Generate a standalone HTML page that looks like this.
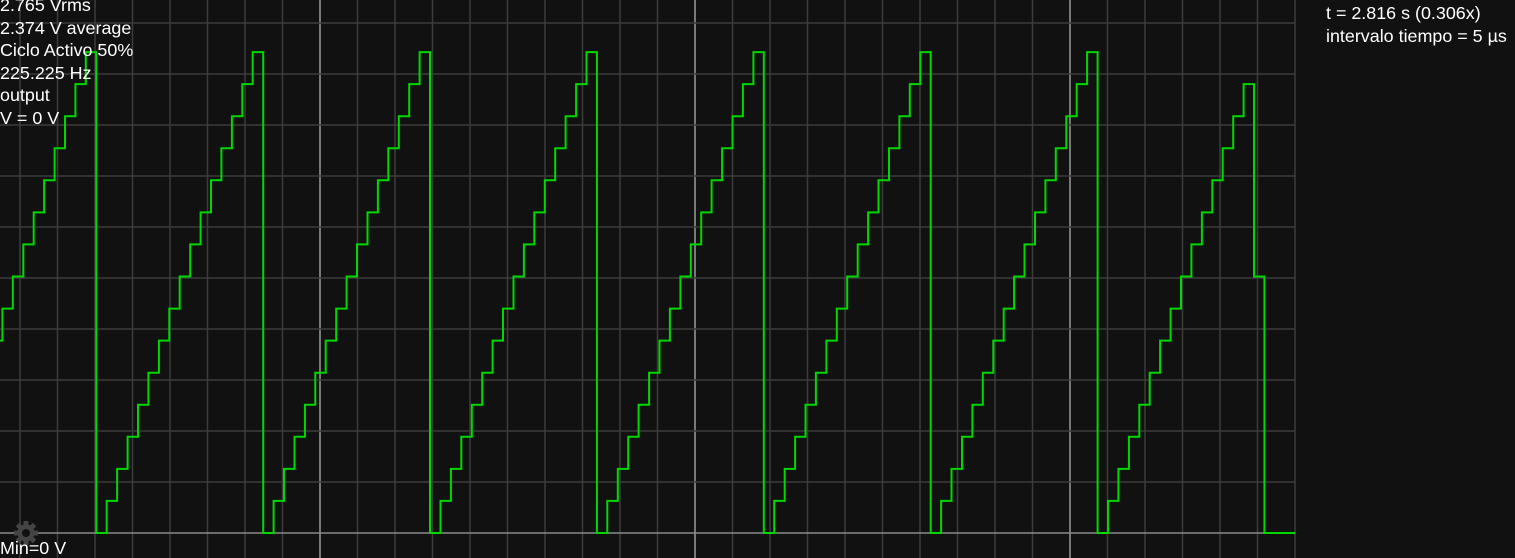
<!DOCTYPE html>
<html><head><meta charset="utf-8"><style>
html,body{margin:0;padding:0;background:#111;}
#wrap{position:relative;width:1515px;height:558px;overflow:hidden;background:#111;font-family:"Liberation Sans",sans-serif;color:#fff;}
.t{position:absolute;left:0;font-size:17.9px;line-height:22.5px;white-space:nowrap;}
</style></head><body>
<div id="wrap">
<svg id="scope" width="1515" height="558" style="position:absolute;left:0;top:0"></svg>
<div class="t" style="top:-6px">
<div>2.765 Vrms</div>
<div>2.374 V average</div>
<div>Ciclo Activo 50%</div>
<div>225.225 Hz</div>
<div>output</div>
<div>V = 0 V</div>
</div>
<div class="t" style="left:1326px;top:2px">
<div>t = 2.816 s (0.306x)</div>
<div>intervalo tiempo = 5 µs</div>
</div>
<div class="t" style="top:537px">Min=0 V</div>
</div>
<script>
// DAC codes per sample (0.3125 V per code)
const codes = [
0,1,2,3,4,5,6,7,8,9,10,11,12,13,14,15,
0,1,2,3,4,5,6,7,8,9,10,11,12,13,14,15,
0,1,2,3,4,5,6,7,8,9,10,11,12,13,14,15,
0,1,2,3,4,5,6,7,8,9,10,11,12,13,14,15,
0,1,2,3,4,5,6,7,8,9,10,11,12,13,14,15,
0,1,2,3,4,5,6,7,8,9,10,11,12,13,14,15,
0,1,2,3,4,5,6,7,8,9,10,11,12,13,14,15,
0,1,2,3,4,5,6,7,8,9,10,11,12,13,14,8,
0,0,0
];
const voltsPerCode = 0.3125;
const hLines = [0,1,2,3,4,5,6,7,8,9,10];
const vLineCount = 35;

const svg = document.getElementById('scope');
const NS = 'http://www.w3.org/2000/svg';
const plotRight = 1295;
const x0 = -70.6, sampleW = 10.43;
const yBase = 533, pxPerVolt = 102.6;
function xAt(i){ return x0 + i*sampleW; }
function yAt(v){ return yBase - v*pxPerVolt; }

for (let k=0;k<vLineCount;k++){
  const x = 20 + k*37.5;
  const major = (k%10)===8;
  const l = document.createElementNS(NS,'line');
  l.setAttribute('x1',x);l.setAttribute('x2',x);l.setAttribute('y1',0);l.setAttribute('y2',558);
  l.setAttribute('stroke', major ? '#9a9a9a' : '#3c3c3c');
  l.setAttribute('stroke-width', 1.5);
  
  
  svg.appendChild(l);
}
hLines.forEach(d=>{
  const y = yBase - d*51;
  const l = document.createElementNS(NS,'line');
  l.setAttribute('x1',0);l.setAttribute('x2',plotRight);l.setAttribute('y1',y);l.setAttribute('y2',y);
  l.setAttribute('stroke', d===0 ? '#8a8a8a' : '#3c3c3c');
  l.setAttribute('stroke-width', 1.5);
  
  
  svg.appendChild(l);
});

const g = document.createElementNS(NS,'g');


let gp='';
for(let i=0;i<8;i++){gp+=`<rect x="-2.5" y="-12" width="5" height="6" transform="rotate(${i*45})"/>`;}
g.innerHTML = `<g transform="translate(26,533)" fill="#444">${gp}<circle r="8.5"/><circle r="4" fill="#111"/></g>`;
svg.appendChild(g);

let d='';
codes.forEach((c,i)=>{
  const y = yAt(c*voltsPerCode);
  const xa = Math.max(0, xAt(i)), xb = Math.min(plotRight, xAt(i+1));
  if (xb <= 0 || xa >= plotRight) return;
  d += (d==='' ? 'M' : 'L') + xa.toFixed(1)+','+y.toFixed(1)+' L'+xb.toFixed(1)+','+y.toFixed(1)+' ';
});
const p = document.createElementNS(NS,'path');
p.setAttribute('d',d);
p.setAttribute('fill','none');
p.setAttribute('stroke','#00d800');
p.setAttribute('stroke-width','2');


svg.appendChild(p);
</script>
</body></html>
